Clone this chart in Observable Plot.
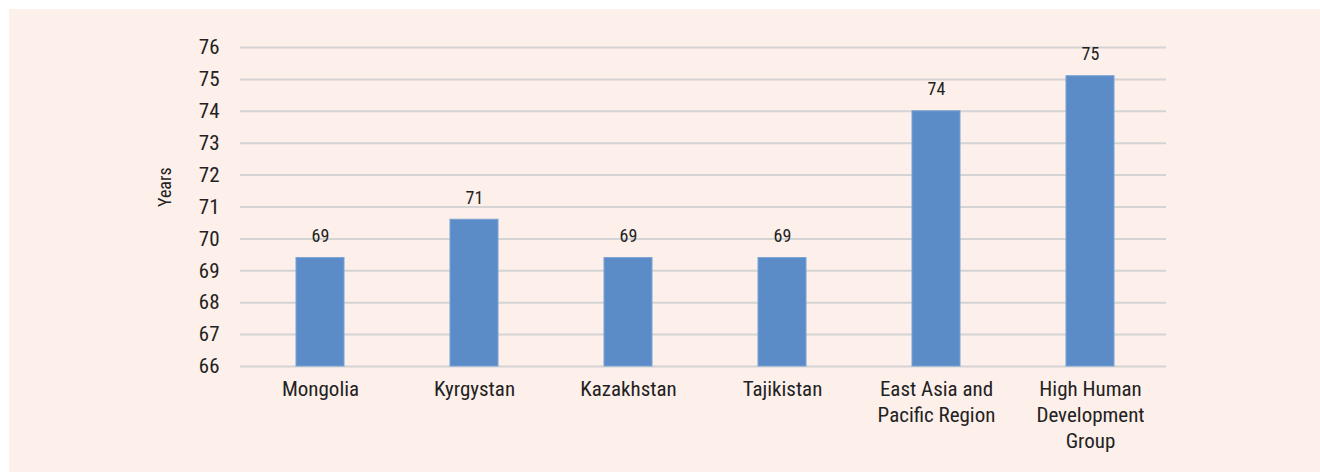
<!DOCTYPE html>
<html>
<head>
<meta charset="utf-8">
<script src="https://cdn.jsdelivr.net/npm/d3@7"></script>
<script src="https://cdn.jsdelivr.net/npm/@observablehq/plot@0.6"></script>
<style>
  html, body { margin: 0; padding: 0; background: #ffffff; }
  #wrap { position: absolute; left: 9px; top: 9px; width: 1311px; height: 463px; background: #fdefea; }
  svg { font-family: "Roboto Condensed", Roboto, sans-serif; font-weight: 400; }
</style>
</head>
<body>
<div id="wrap"></div>
<script>
const countries = ["Mongolia", "Kyrgystan", "Kazakhstan", "Tajikistan", "East Asia and Pacific Region", "High Human Development Group"];
const tickLabels = ["Mongolia", "Kyrgystan", "Kazakhstan", "Tajikistan", "East Asia and\nPacific Region", "High Human\nDevelopment\nGroup"];
const lifeExpectancy = [69.4, 70.6, 69.4, 69.4, 74.0, 75.1];
const valueLabels = ["69", "71", "69", "69", "74", "75"];
const yTicks = [66, 67, 68, 69, 70, 71, 72, 73, 74, 75, 76];

const data = countries.map((c, i) => ({country: c, value: lifeExpectancy[i], label: valueLabels[i]}));
const tickMap = new Map(countries.map((c, i) => [c, tickLabels[i]]));

const chart = Plot.plot({
  width: 1311,
  height: 463,
  marginLeft: 231,
  marginRight: 154,
  marginTop: 38,
  marginBottom: 106,
  style: {background: "transparent", fontSize: "21px", color: "#222"},
  x: {domain: countries, paddingInner: 0.69, paddingOuter: 0.345, align: 0.52, label: null},
  y: {domain: [66, 76], label: null},
  marks: [
    Plot.gridY(yTicks, {stroke: "#d4d4d4", strokeOpacity: 1, strokeWidth: 2}),
    Plot.barY(data, {x: "country", y1: 66, y2: "value", fill: "#5b8cc8", stroke: "#7aa2d4", strokeWidth: 1}),
    Plot.text(data, {x: "country", y: "value", text: "label", dy: -22, fontSize: 18, fill: "#222"}),
    Plot.axisY({ticks: yTicks, tickSize: 0, tickPadding: 21, fontSize: 21, label: null, fill: "#222"}),
    Plot.axisX({tickSize: 0, tickPadding: 11, fontSize: 21, lineHeight: 1.24, label: null, tickFormat: (d) => tickMap.get(d), fill: "#222"}),
    Plot.text(["Years"], {frameAnchor: "left", rotate: -90, dx: -75, fontSize: 18, fill: "#222"})
  ]
});
document.getElementById("wrap").appendChild(chart);
</script>
</body>
</html>
